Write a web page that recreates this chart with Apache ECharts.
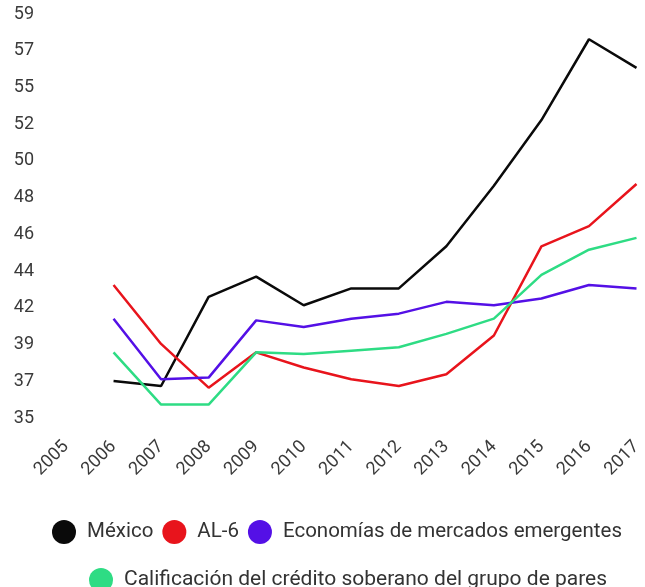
<!DOCTYPE html>
<html>
<head>
<meta charset="utf-8">
<script src="https://cdn.jsdelivr.net/npm/echarts@6/dist/echarts.min.js"></script>
<style>
  html, body { margin: 0; padding: 0; background: #fff; }
  #chart { width: 645px; height: 587px; }
</style>
</head>
<body>
<div id="chart"></div>
<script>
const years = ['2005', '2006', '2007', '2008', '2009', '2010', '2011', '2012', '2013', '2014', '2015', '2016', '2017'];
const mexico = [null, 37.2, 36.9, 42.2, 43.4, 41.7, 42.7, 42.7, 45.2, 48.8, 52.7, 57.5, 55.8];
const al6 = [null, 42.9, 39.4, 36.8, 38.9, 38.0, 37.3, 36.9, 37.6, 39.9, 45.2, 46.4, 48.9];
const emergentes = [null, 40.9, 37.3, 37.4, 40.8, 40.4, 40.9, 41.2, 41.9, 41.7, 42.1, 42.9, 42.7];
const pares = [null, 38.9, 35.8, 35.8, 38.9, 38.8, 39.0, 39.2, 40.0, 40.9, 43.5, 45.0, 45.7];

const yMin = 35, yMax = 59;

let myChart = echarts.init(document.getElementById('chart')), option;

const textFont = { fontFamily: 'Roboto', color: '#3a3a3a' };

function line(name, data, color) {
  return {
    name: name,
    type: 'line',
    data: data,
    showSymbol: false,
    symbol: 'circle',
    lineStyle: { width: 2.5, color: color },
    itemStyle: { color: color }
  };
}

option = {
  animation: false,
  grid: { left: 66, right: 5, top: 14, bottom: 169 },
  legend: [
    {
      data: ['México', 'AL-6', 'Economías de mercados emergentes'],
      top: 515,
      left: 47,
      icon: 'circle',
      itemWidth: 24,
      itemHeight: 24,
      itemGap: 9,
      textStyle: { fontFamily: 'Roboto', fontSize: 20.5, color: '#333', padding: [0, 0, 0, 6] }
    },
    {
      data: ['Calificación del crédito soberano del grupo de pares'],
      top: 563,
      left: 84,
      icon: 'circle',
      itemWidth: 24,
      itemHeight: 24,
      textStyle: { fontFamily: 'Roboto', fontSize: 21, color: '#333', padding: [0, 0, 0, 6] }
    }
  ],
  xAxis: {
    type: 'category',
    data: years,
    boundaryGap: false,
    axisLine: { show: false },
    axisTick: { show: false },
    splitLine: { show: false },
    axisLabel: Object.assign({ rotate: 45, fontSize: 18, margin: 26, interval: 0 }, textFont)
  },
  yAxis: {
    type: 'value',
    min: yMin,
    max: yMax,
    interval: (yMax - yMin) / 11,
    axisLine: { show: false },
    axisTick: { show: false },
    splitLine: { show: false },
    axisLabel: Object.assign({
      fontSize: 18,
      margin: 32,
      formatter: function (v) { return Math.round(v); }
    }, textFont)
  },
  series: [
    line('México', mexico, '#0a0a0a'),
    line('AL-6', al6, '#e8141c'),
    line('Economías de mercados emergentes', emergentes, '#5410e6'),
    line('Calificación del crédito soberano del grupo de pares', pares, '#2edc84')
  ]
};

option && myChart.setOption(option);
</script>
</body>
</html>
